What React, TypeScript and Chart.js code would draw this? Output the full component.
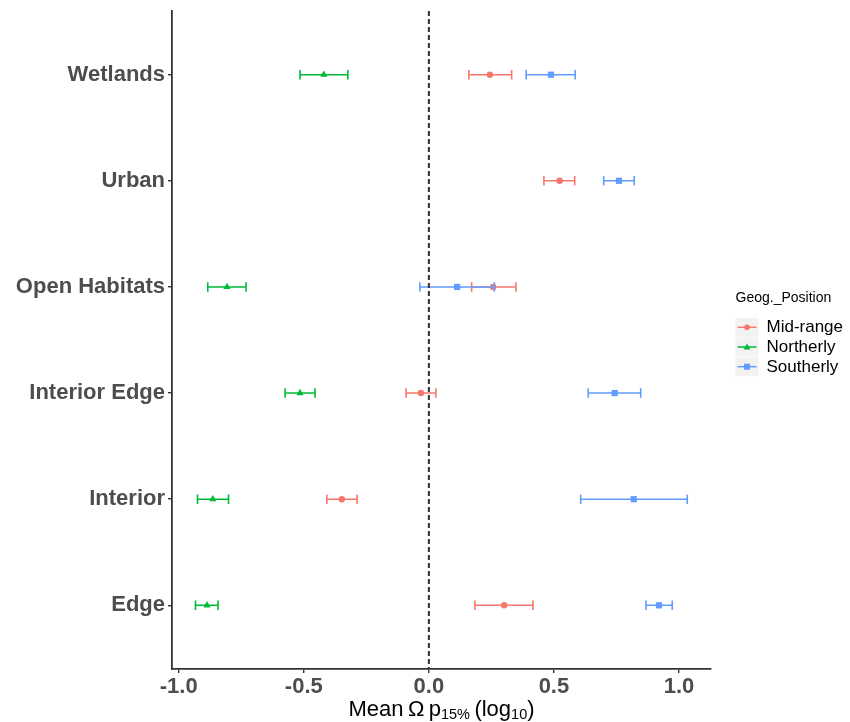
import React, { useEffect, useRef } from 'react';
import { Chart, registerables } from 'chart.js';

Chart.register(...registerables);

// ---- data ----
const categories = ['Edge', 'Interior', 'Interior Edge', 'Open Habitats', 'Urban', 'Wetlands'];
const seriesNames = ['Mid-range', 'Northerly', 'Southerly'];
const seriesColors = ['#F8766D', '#00BA38', '#619CFF'];
const seriesShapes = ['circle', 'triangle', 'rect'];
const seriesRadius = [3.2, 4.2, 4.4];

const midMean = [0.301, -0.348, -0.032, 0.257, 0.523, 0.244];
const midLow = [0.184, -0.408, -0.091, 0.171, 0.46, 0.16];
const midHigh = [0.416, -0.287, 0.028, 0.348, 0.583, 0.331];

const northMean = [-0.887, -0.864, -0.515, -0.807, null, -0.42];
const northLow = [-0.933, -0.925, -0.575, -0.884, null, -0.515];
const northHigh = [-0.843, -0.801, -0.455, -0.731, null, -0.324];

const southMean = [0.92, 0.819, 0.743, 0.113, 0.76, 0.488];
const southLow = [0.868, 0.607, 0.637, -0.036, 0.699, 0.389];
const southHigh = [0.973, 1.033, 0.847, 0.262, 0.821, 0.585];

const xTicks = [-1.0, -0.5, 0.0, 0.5, 1.0];
const xMin = -1.027;
const xMax = 1.128;
const legendTitle = 'Geog._Position';

const FONT = '"Liberation Sans", Arial, Helvetica, sans-serif';

const means = [midMean, northMean, southMean];
const lows = [midLow, northLow, southLow];
const highs = [midHigh, northHigh, southHigh];

function buildPoints(s: number) {
  const pts: any[] = [];
  categories.forEach((_, i) => {
    const m = means[s][i];
    if (m === null || m === undefined) return;
    pts.push({ x: m, y: i, lo: lows[s][i], hi: highs[s][i] });
  });
  return pts;
}

const errorBarPlugin = {
  id: 'errorBars',
  afterDatasetsDraw(chart: any) {
    const { ctx, scales } = chart;
    const xs = scales.x;
    const ys = scales.y;
    chart.data.datasets.forEach((ds: any) => {
      ctx.save();
      ctx.strokeStyle = ds.borderColor;
      ctx.lineWidth = 1.6;
      ds.data.forEach((p: any) => {
        const x1 = xs.getPixelForValue(p.lo);
        const x2 = xs.getPixelForValue(p.hi);
        const yy = ys.getPixelForValue(p.y);
        const h = 4.8;
        ctx.beginPath();
        ctx.moveTo(x1, yy);
        ctx.lineTo(x2, yy);
        ctx.moveTo(x1, yy - h);
        ctx.lineTo(x1, yy + h);
        ctx.moveTo(x2, yy - h);
        ctx.lineTo(x2, yy + h);
        ctx.stroke();
      });
      ctx.restore();
    });
  },
};

const zeroLinePlugin = {
  id: 'zeroLine',
  afterDatasetsDraw(chart: any) {
    const { ctx, chartArea, scales } = chart;
    const x0 = scales.x.getPixelForValue(0);
    ctx.save();
    ctx.strokeStyle = '#333333';
    ctx.lineWidth = 2;
    ctx.setLineDash([5, 3]);
    ctx.beginPath();
    ctx.moveTo(x0, chartArea.top);
    ctx.lineTo(x0, chartArea.bottom);
    ctx.stroke();
    ctx.restore();
  },
};

const axisTitlePlugin = {
  id: 'axisTitle',
  afterDraw(chart: any) {
    const { ctx, chartArea } = chart;
    const big = `22px ${FONT}`;
    const small = `14.5px ${FONT}`;
    const parts: [string, string, number][] = [
      ['Mean', big, 0],
      ['\u2009', big, 0],
      ['\u03A9', big, 0],
      ['\u2009', big, 0],
      ['p', big, 0],
      ['15%', small, 3],
      ['\u2009', big, 0],
      ['(log', big, 0],
      ['10', small, 3],
      [')', big, 0],
    ];
    ctx.save();
    let total = 0;
    const widths = parts.map(([t, f]) => {
      ctx.font = f;
      const w = ctx.measureText(t).width;
      total += w;
      return w;
    });
    let x = (chartArea.left + chartArea.right) / 2 - total / 2;
    const baseline = 716;
    ctx.fillStyle = '#000000';
    ctx.textBaseline = 'alphabetic';
    ctx.textAlign = 'left';
    parts.forEach(([t, f, dy], i) => {
      ctx.font = f;
      ctx.fillText(t, x, baseline + dy);
      x += widths[i];
    });
    ctx.restore();
  },
};

const legendPlugin = {
  id: 'customLegend',
  afterDraw(chart: any) {
    const { ctx } = chart;
    ctx.save();
    ctx.fillStyle = '#000000';
    ctx.textAlign = 'left';
    ctx.textBaseline = 'middle';
    ctx.font = `14px ${FONT}`;
    ctx.fillText(legendTitle, 735.5, 298);
    const rowY = [327.3, 347, 366.7];
    seriesNames.forEach((name, i) => {
      const cy = rowY[i];
      const bx = 735.5;
      const bw = 23;
      const bh = 19;
      ctx.fillStyle = '#F2F2F2';
      ctx.fillRect(bx, cy - bh / 2, bw, bh);
      ctx.strokeStyle = seriesColors[i];
      ctx.lineWidth = 1.5;
      ctx.beginPath();
      ctx.moveTo(bx + 2, cy);
      ctx.lineTo(bx + bw - 2, cy);
      ctx.stroke();
      ctx.fillStyle = seriesColors[i];
      const px = bx + bw / 2;
      if (seriesShapes[i] === 'circle') {
        ctx.beginPath();
        ctx.arc(px, cy, 2.8, 0, Math.PI * 2);
        ctx.fill();
      } else if (seriesShapes[i] === 'triangle') {
        ctx.beginPath();
        ctx.moveTo(px, cy - 3.6);
        ctx.lineTo(px + 3.4, cy + 2.4);
        ctx.lineTo(px - 3.4, cy + 2.4);
        ctx.closePath();
        ctx.fill();
      } else {
        ctx.fillRect(px - 3, cy - 3, 6, 6);
      }
      ctx.fillStyle = '#000000';
      ctx.font = `17px ${FONT}`;
      ctx.fillText(name, 766.5, cy + 0.5);
    });
    ctx.restore();
  },
};

export default function App() {
  const canvasRef = useRef<HTMLCanvasElement | null>(null);

  useEffect(() => {
    document.body.style.margin = '0';
    const canvas = canvasRef.current;
    if (!canvas) return;

    const datasets = seriesNames.map((name, s) => ({
      label: name,
      data: buildPoints(s),
      backgroundColor: seriesColors[s],
      borderColor: seriesColors[s],
      borderWidth: 0,
      pointStyle: seriesShapes[s],
      pointRadius: seriesRadius[s],
      pointHoverRadius: seriesRadius[s],
      order: 3 - s,
    }));

    const chart = new Chart(canvas, {
      type: 'scatter',
      data: { datasets } as any,
      options: {
        animation: false,
        responsive: false,
        maintainAspectRatio: false,
        layout: { padding: { left: 0, top: 11, right: 139, bottom: 0 } },
        plugins: {
          legend: { display: false },
          tooltip: { enabled: false },
        },
        scales: {
          x: {
            type: 'linear',
            min: xMin,
            max: xMax,
            afterBuildTicks: (scale: any) => {
              scale.ticks = xTicks.map((v) => ({ value: v }));
            },
            afterFit: (scale: any) => {
              scale.height = 53;
              scale.paddingLeft = 0;
              scale.paddingRight = 0;
            },
            ticks: {
              callback: (v: any) => Number(v).toFixed(1),
              font: { family: FONT, size: 22, weight: 'bold' },
              color: '#4D4D4D',
              padding: 1,
              maxRotation: 0,
              autoSkip: false,
            },
            grid: {
              display: true,
              drawOnChartArea: false,
              drawTicks: true,
              tickLength: 4,
              color: '#333333',
              lineWidth: 1.4,
            },
            border: { display: true, color: '#333333', width: 1.8 },
          },
          y: {
            type: 'linear',
            min: -0.6,
            max: 5.6,
            afterBuildTicks: (scale: any) => {
              scale.ticks = categories.map((_, i) => ({ value: i }));
            },
            afterFit: (scale: any) => {
              scale.width = 172;
              scale.paddingTop = 0;
              scale.paddingBottom = 0;
            },
            ticks: {
              callback: (v: any) => categories[Math.round(Number(v))] ?? '',
              font: { family: FONT, size: 22, weight: 'bold' },
              color: '#4D4D4D',
              padding: 3,
              autoSkip: false,
            },
            grid: {
              display: true,
              drawOnChartArea: false,
              drawTicks: true,
              tickLength: 4,
              color: '#333333',
              lineWidth: 1.4,
            },
            border: { display: true, color: '#333333', width: 1.8 },
          },
        },
      } as any,
      plugins: [errorBarPlugin, zeroLinePlugin, axisTitlePlugin, legendPlugin],
    });

    return () => {
      chart.destroy();
    };
  }, []);

  return (
    <div style={{ width: 850, height: 722, background: '#ffffff' }}>
      <canvas ref={canvasRef} width={850} height={722} style={{ display: 'block' }} />
    </div>
  );
}
